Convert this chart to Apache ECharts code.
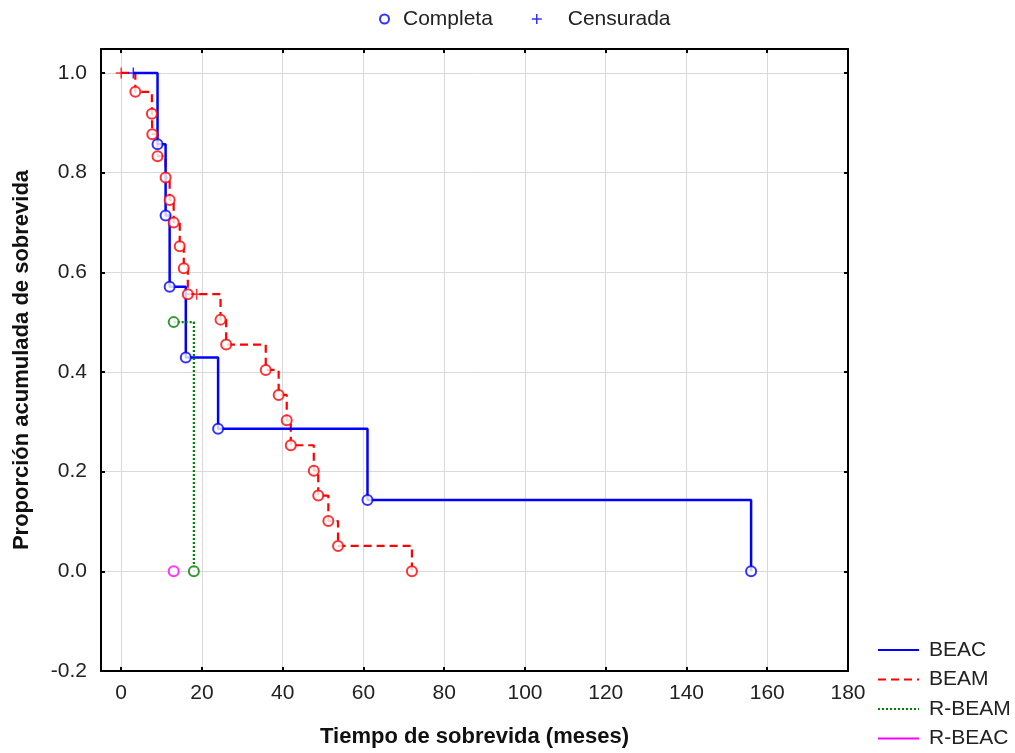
<!DOCTYPE html>
<html>
<head>
<meta charset="utf-8">
<script src="https://cdn.jsdelivr.net/npm/echarts@6/dist/echarts.min.js"></script>
<style>
  html, body { margin: 0; padding: 0; background: #fff; }
  #chart { width: 1015px; height: 753px; }
</style>
</head>
<body>
<div id="chart"></div>
<script>
// Kaplan–Meier product-limit curves, one per treatment regimen.
// event: 1 = completa (death observed), 0 = censurada.
const beacTime  = [3, 9, 11, 12, 16, 24, 61, 156];
const beacSurv  = [1.0, 0.857, 0.714, 0.571, 0.429, 0.286, 0.143, 0.0];
const beacEvent = [0, 1, 1, 1, 1, 1, 1, 1];

const beamTime  = [0, 3.5, 7.6, 7.7, 9, 11, 12, 13, 14.5, 15.5, 16.5, 18.7, 24.6, 26, 35.8, 39, 41, 42, 47.7, 48.8, 51.3, 53.7, 72];
const beamSurv  = [1.0, 0.962, 0.918, 0.877, 0.833, 0.790, 0.745, 0.700, 0.652, 0.608, 0.556, 0.556, 0.505, 0.455, 0.404, 0.354, 0.303, 0.253, 0.202, 0.152, 0.101, 0.051, 0.0];
const beamEvent = [0, 1, 1, 1, 1, 1, 1, 1, 1, 1, 1, 0, 1, 1, 1, 1, 1, 1, 1, 1, 1, 1, 1];

const rbeamTime  = [13, 18];
const rbeamSurv  = [0.5, 0.0];
const rbeamEvent = [1, 1];

const rbeacTime  = [13];
const rbeacSurv  = [0.0];
const rbeacEvent = [1];

// Axis tick values
const xTicks = [0, 20, 40, 60, 80, 100, 120, 140, 160, 180];
const yTicks = [-0.2, 0.0, 0.2, 0.4, 0.6, 0.8, 1.0];

const groups = [
  { name: 'BEAC',   time: beacTime,  surv: beacSurv,  event: beacEvent,  color: '#0000ff', type: 'solid', width: 2.5 },
  { name: 'BEAM',   time: beamTime,  surv: beamSurv,  event: beamEvent,  color: '#ff0000', type: [8, 5], width: 2.2 },
  { name: 'R-BEAM', time: rbeamTime, surv: rbeamSurv, event: rbeamEvent, color: '#008000', type: [2, 2], width: 2.2 },
  { name: 'R-BEAC', time: rbeacTime, surv: rbeacSurv, event: rbeacEvent, color: '#ff00ff', type: 'solid', width: 2.5 }
];

const FONT = '"Liberation Sans", Arial, sans-serif';
const PLUS = 'path://M5,0L5,10M0,5L10,5';
const TXT = '#222';

const lineSeries = groups.map(g => ({
  name: g.name,
  type: 'line',
  step: 'end',
  symbol: 'none',
  silent: true,
  color: g.color,
  lineStyle: { color: g.color, width: g.width, type: g.type },
  data: g.time.map((t, i) => [t, g.surv[i]]),
  z: 2
}));
// BEAM goes underneath BEAC
const drawOrder = [lineSeries[1], lineSeries[0], lineSeries[2], lineSeries[3]];

const completePts = [];
const censoredPts = [];
groups.forEach(g => {
  g.time.forEach((t, i) => {
    const pt = [t, g.surv[i]];
    if (g.event[i]) completePts.push({ value: pt, itemStyle: { color: g.color } });
    else censoredPts.push({ value: pt, itemStyle: { borderColor: g.color } });
  });
});

const axisText = { color: TXT, fontFamily: FONT, fontSize: 21 };
const titleText = { color: '#111', fontFamily: FONT, fontSize: 22, fontWeight: 'bold' };
const frameLine = { show: true, onZero: false, lineStyle: { color: '#000', width: 2 } };
const tickStyle = { color: '#000', width: 2 };
const legendText = { color: TXT, fontFamily: FONT, fontSize: 21, lineHeight: 24 };

const option = {
  animation: false,
  backgroundColor: '#fff',
  grid: { left: 101, right: 167, top: 49, bottom: 80 },
  legend: [
    {
      data: [{ name: 'Completa', icon: 'emptyCircle',
               itemStyle: { color: '#0000ff', borderColor: '#0000ff', borderWidth: 2 } }],
      left: 379, top: 7, padding: 0,
      itemWidth: 9, itemHeight: 9,
      selectedMode: false,
      textStyle: { ...legendText, padding: [0, 0, 0, 9] }
    },
    {
      data: [{ name: 'Censurada', icon: PLUS,
               itemStyle: { color: 'transparent', borderColor: '#0000ff', borderWidth: 1.5 } }],
      left: 531, top: 7, padding: 0,
      itemWidth: 10, itemHeight: 10,
      selectedMode: false,
      textStyle: { ...legendText, padding: [0, 0, 0, 21] }
    },
    {
      data: groups.map(g => ({ name: g.name, itemStyle: { opacity: 0 } })),
      orient: 'vertical',
      left: 877, top: 638, padding: 0,
      itemWidth: 41, itemHeight: 14, itemGap: 5.5,
      selectedMode: false,
      textStyle: { ...legendText, padding: [0, 0, 0, 5] }
    }
  ],
  xAxis: [
    {
      type: 'value', min: -5, max: 180,
      name: 'Tiempo de sobrevida (meses)',
      nameLocation: 'middle', nameGap: 55,
      nameTextStyle: titleText,
      axisLine: frameLine,
      axisTick: { show: true, inside: true, length: 4, customValues: xTicks, lineStyle: tickStyle },
      axisLabel: { customValues: xTicks, margin: 12, ...axisText },
      splitLine: { show: true, lineStyle: { color: '#d9d9d9', width: 1 } }
    },
    {
      type: 'value', min: -5, max: 180, position: 'top',
      axisLine: frameLine,
      axisTick: { show: true, inside: true, length: 4, customValues: xTicks, lineStyle: tickStyle },
      axisLabel: { show: false },
      splitLine: { show: false }
    }
  ],
  yAxis: [
    {
      type: 'value', min: -0.2, max: 1.048,
      name: 'Proporción acumulada de sobrevida',
      nameLocation: 'middle', nameGap: 68,
      nameTextStyle: titleText,
      axisLine: frameLine,
      axisTick: { show: true, inside: true, length: 4, customValues: yTicks, lineStyle: tickStyle },
      axisLabel: { customValues: yTicks, margin: 14, formatter: v => v.toFixed(1), ...axisText },
      splitLine: { show: true, lineStyle: { color: '#d9d9d9', width: 1 } }
    },
    {
      type: 'value', min: -0.2, max: 1.048, position: 'right',
      axisLine: frameLine,
      axisTick: { show: true, inside: true, length: 4, customValues: yTicks, lineStyle: tickStyle },
      axisLabel: { show: false },
      splitLine: { show: false }
    }
  ],
  series: [
    ...drawOrder,
    {
      name: 'Completa',
      type: 'scatter',
      symbol: 'emptyCircle',
      symbolSize: 10,
      silent: true,
      itemStyle: { color: '#0000ff', borderWidth: 2 },
      data: completePts,
      z: 4
    },
    {
      name: 'Censurada',
      type: 'scatter',
      symbol: PLUS,
      symbolSize: 11,
      silent: true,
      itemStyle: { color: 'transparent', borderColor: '#0000ff', borderWidth: 1.5 },
      data: censoredPts,
      z: 5
    }
  ]
};

const chart = echarts.init(document.getElementById('chart'), null, { renderer: 'canvas' });
chart.setOption(option);
</script>
</body>
</html>
